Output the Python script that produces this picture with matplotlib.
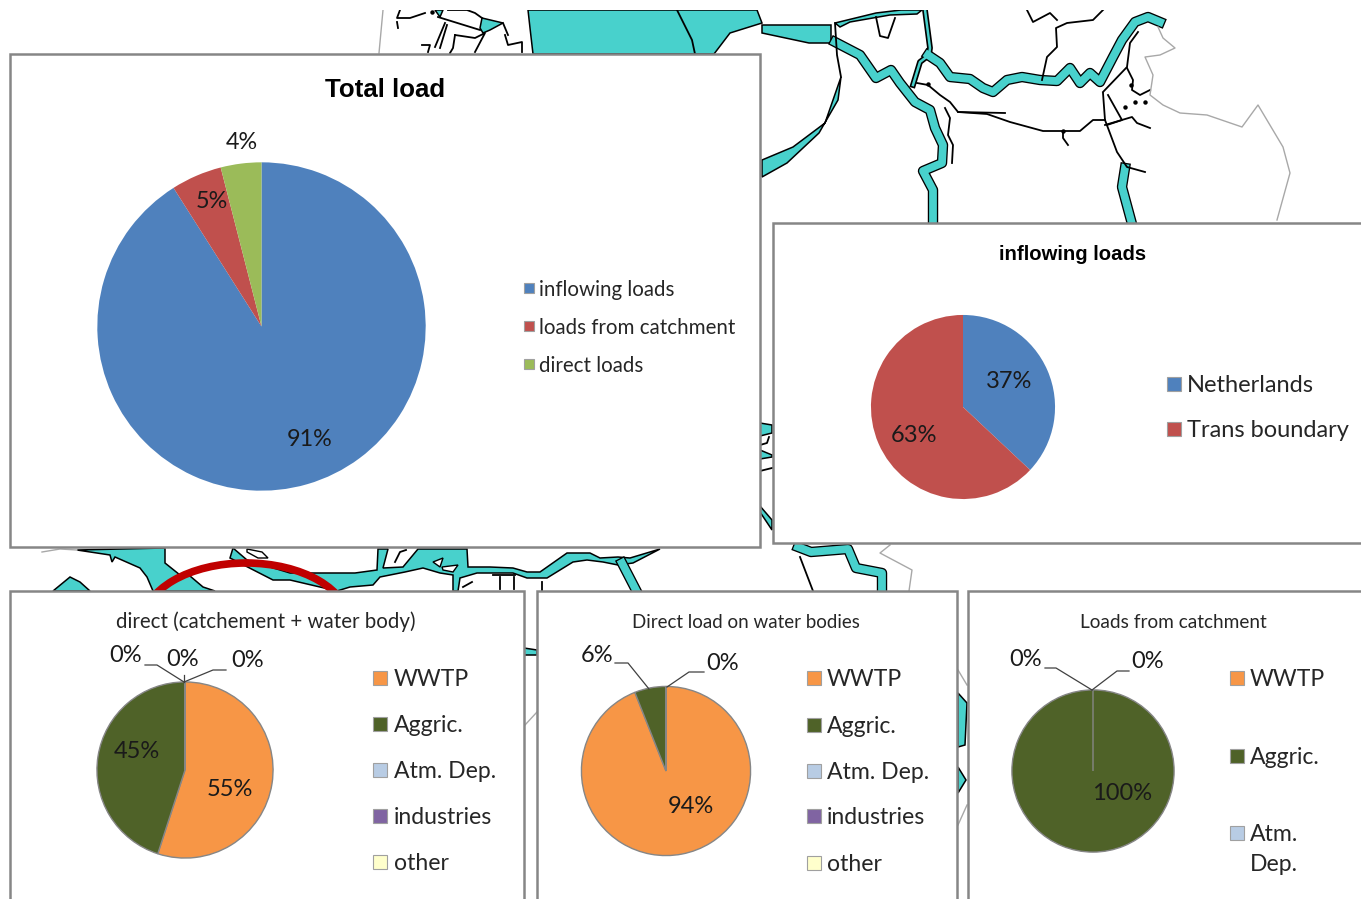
import matplotlib
matplotlib.use("Agg")
import matplotlib.pyplot as plt
from matplotlib.patches import Ellipse, Polygon, Rectangle

W, H = 1361, 899
FONT = "Lato"
BOLD = "Liberation Sans"

# Colours
TEAL = "#48D1CC"
FRAME = "#868686"
BLUE, RED, GREEN = "#4F81BD", "#C0504D", "#9BBB59"
ORANGE, OLIVE, PALE_BLUE, PURPLE, PALE_YELLOW = "#F79646", "#4F6228", "#B8CCE4", "#8064A2", "#FFFFCC"

# Chart values
total_names = ["inflowing loads", "loads from catchment", "direct loads"]
total_values = [91, 5, 4]

inflow_names = ["Netherlands", "Trans boundary"]
inflow_values = [37, 63]

source_names = ["WWTP", "Aggric.", "Atm. Dep.", "industries", "other"]
direct_values = [55, 45, 0, 0, 0]
water_values = [94, 6, 0, 0, 0]

catchment_names = ["WWTP", "Aggric.", "Atm.\nDep."]
catchment_values = [0, 100, 0]

# Map outlines in pixels
water_shapes = [
    [(528, 10), (757, 10), (762, 23), (730, 33), (714, 54), (533, 54), (530, 28)],
    [(762, 25), (831, 25), (831, 43), (809, 43), (762, 33)],
    [(835, 23), (876, 13), (901, 10), (922, 10), (917, 14), (890, 15), (850, 22), (840, 27)],
    [(482, 18), (503, 23), (490, 30), (483, 33), (480, 28)],
    [(435, 10), (443, 10), (440, 17)],
    [(841, 77), (838, 100), (819, 133), (787, 163), (762, 177), (762, 160), (793, 147), (825, 123)],
    [(77, 550), (165, 548), (165, 563), (180, 575), (190, 576), (203, 587), (215, 591), (153, 591), (147, 577),
     (140, 568), (115, 557), (112, 562), (110, 555)],
    [(53, 591), (70, 577), (80, 582), (90, 591)],
    [(233, 548), (247, 560), (290, 573), (340, 573), (355, 573), (377, 570), (378, 549), (388, 549), (383, 568),
     (403, 567), (418, 549), (467, 549), (468, 567), (490, 567), (513, 568), (527, 572), (540, 572), (567, 553),
     (590, 553), (600, 558), (618, 557), (630, 558), (660, 549), (633, 563), (618, 565), (603, 562), (587, 560),
     (573, 562), (547, 578), (527, 578), (513, 573), (477, 573), (460, 578), (458, 591), (453, 591), (453, 575),
     (440, 573), (423, 568), (405, 572), (380, 577), (373, 585), (350, 587), (337, 591), (290, 580), (273, 580),
     (230, 558)],
    [(958, 693), (967, 703), (965, 745), (958, 747)],
    [(958, 767), (966, 780), (958, 793)],
    [(760, 423), (772, 425), (772, 433), (760, 436)],
    [(760, 450), (772, 455), (772, 457), (760, 459)],
    [(760, 506), (772, 520), (772, 530), (760, 512)],
    [(524, 648), (537, 650), (537, 655), (524, 655)],
]

islands = [
    [(433, 562), (443, 558), (440, 567)],
    [(442, 567), (458, 565), (453, 572), (443, 570)],
    [(247, 549), (262, 552), (268, 558), (258, 558), (247, 552)],
]

rivers = [
    [(835, 42), (860, 55), (876, 78), (891, 70), (900, 83), (915, 102), (930, 110), (935, 128), (943, 145),
     (942, 163), (923, 171), (933, 190), (933, 224)],
    [(928, 55), (940, 63), (950, 77), (970, 79), (983, 88), (993, 92), (1007, 80), (1022, 77), (1040, 80), (1057, 81),
     (1070, 68), (1080, 83), (1090, 73), (1100, 82), (1113, 57), (1122, 40), (1135, 22), (1148, 17), (1160, 22)],
    [(1125, 168), (1122, 187), (1132, 224)],
    [(622, 563), (637, 592)],
    [(798, 547), (811, 552), (848, 549), (856, 568), (882, 573), (882, 592)],
]

side_branches = [
    [(925, 10), (930, 48), (929, 55), (920, 62), (913, 85)],
]

streams = [
    [(835, 23), (837, 55), (841, 77)],
    [(917, 83), (928, 85), (940, 95), (950, 102), (958, 112), (1005, 113)],
    [(958, 112), (987, 114), (1010, 122), (1043, 131), (1080, 131), (1093, 120), (1105, 120)],
    [(1063, 131), (1063, 138), (1068, 145)],
    [(945, 108), (950, 118), (948, 135), (953, 145), (952, 163)],
    [(1042, 80), (1047, 57), (1057, 47), (1056, 28), (1067, 23), (1093, 20), (1103, 10)],
    [(1027, 10), (1033, 22), (1050, 13), (1057, 20)],
    [(1103, 92), (1127, 67), (1130, 43), (1138, 32)],
    [(1103, 93), (1105, 120), (1108, 128), (1117, 152), (1127, 167), (1145, 172)],
    [(1108, 95), (1122, 120), (1107, 125)],
    [(1105, 125), (1132, 117), (1137, 123), (1150, 128)],
    [(1127, 68), (1133, 80), (1132, 90), (1140, 95), (1150, 90)],
    [(876, 17), (880, 36), (888, 38), (895, 18)],
    [(800, 557), (813, 591)],
    [(677, 10), (692, 40), (695, 54)],
    [(438, 17), (480, 30)],
    [(445, 23), (435, 47)],
    [(447, 25), (440, 48)],
    [(400, 10), (397, 18), (410, 18), (425, 13)],
    [(398, 28), (397, 22)],
    [(422, 45), (430, 45), (428, 52)],
    [(455, 35), (475, 38), (485, 33), (475, 52)],
    [(455, 35), (453, 48), (450, 53)],
    [(448, 10), (467, 10), (475, 13), (482, 18)],
    [(505, 35), (508, 45), (522, 42), (522, 52)],
    [(503, 23), (508, 35)],
    [(493, 575), (515, 575)],
    [(500, 577), (500, 589)],
    [(514, 577), (514, 589)],
    [(542, 582), (542, 591)],
    [(463, 587), (472, 582)],
    [(395, 562), (400, 552), (406, 550)],
    [(760, 445), (767, 443), (769, 437)],
    [(760, 471), (772, 468)],
]

specks = [(1135, 102), (1145, 102), (1125, 107), (1131, 85), (1063, 131), (432, 12), (928, 84)]

borders = [
    [(1158, 27), (1163, 38), (1175, 48), (1160, 55), (1145, 57), (1153, 75), (1150, 95), (1163, 105), (1180, 113),
     (1207, 115), (1242, 127), (1258, 105), (1283, 147), (1290, 173), (1277, 220)],
    [(383, 10), (379, 53)],
    [(42, 552), (60, 549), (77, 550)],
    [(890, 545), (880, 553), (912, 570), (909, 591)],
    [(958, 670), (967, 685)],
    [(958, 825), (967, 805)],
    [(525, 725), (537, 712)],
]

# Chart layout
panels = [(10, 54, 750, 493), (773, 223, 600, 320), (10, 591, 514, 320), (537, 591, 420, 320), (968, 591, 400, 320)]

fig = plt.figure(figsize=(W / 100, H / 100), dpi=100, facecolor="white")

base = fig.add_axes([0, 0, 1, 1], zorder=1)
base.set_xlim(0, W)
base.set_ylim(H, 0)
base.axis("off")

top = fig.add_axes([0, 0, 1, 1], zorder=3)
top.set_xlim(0, W)
top.set_ylim(H, 0)
top.axis("off")

for shape in water_shapes:
    base.add_patch(Polygon(shape, closed=True, fc=TEAL, ec="black", lw=1.1, zorder=1))
for shape in islands:
    base.add_patch(Polygon(shape, closed=True, fc="white", ec="black", lw=1.0, zorder=1.1))

for river in rivers:
    xs, ys = zip(*river)
    base.plot(xs, ys, color="black", lw=7.5, solid_joinstyle="round", zorder=2)
    base.plot(xs, ys, color=TEAL, lw=5.6, solid_joinstyle="round", zorder=2.1)

for branch in side_branches:
    xs, ys = zip(*branch)
    base.plot(xs, ys, color="black", lw=4.2, zorder=2)
    base.plot(xs, ys, color=TEAL, lw=1.8, zorder=2.1)

for stream in streams:
    xs, ys = zip(*stream)
    base.plot(xs, ys, color="black", lw=1.3, zorder=2.2)

for x, y in specks:
    base.plot(x, y, "o", color="black", ms=3.2, mew=0, zorder=2.2)

for border in borders:
    xs, ys = zip(*border)
    base.plot(xs, ys, color="#A8A8A8", lw=1.0, zorder=2.2)

base.add_patch(Ellipse((246, 623), 206, 120, fc="none", ec="#C00000", lw=5.5, zorder=3))

# White strip above the map
base.add_patch(Rectangle((0, 0), W, 10, fc="white", ec="none", zorder=3.5))

for x, y, w, h in panels:
    base.add_patch(Rectangle((x, y), w, h, fc="white", ec=FRAME, lw=1.8, zorder=4))


def draw_pie(values, colors, cx, cy, r, edge=None):
    ax = fig.add_axes([(cx - r) / W, 1 - (cy + r) / H, 2 * r / W, 2 * r / H], zorder=2)
    style = {"linewidth": 0}
    if edge:
        style = {"edgecolor": edge, "linewidth": 1.0}
    ax.pie(values, colors=colors, startangle=90, counterclock=False, radius=1.0, wedgeprops=style)
    ax.set_xlim(-1.005, 1.005)
    ax.set_ylim(-1.005, 1.005)


def legend(names, colors, x, ys, box, text_x, size, line_gap=30):
    for name, color, y in zip(names, colors, ys):
        top.add_patch(Rectangle((x, y - box / 2), box, box, fc=color, ec="#A0A0A0", lw=0.8))
        for i, part in enumerate(name.split("\n")):
            top.text(text_x, y + 1.5 + i * line_gap, part, fontsize=size, family=FONT, color="#262626", va="center", ha="left")


def value_labels(values, spots, size):
    for v, (x, y) in zip(values, spots):
        top.text(x, y + 1.5, f"{v}%", fontsize=size, family=FONT, color="#1A1A1A", ha="center", va="center")


def leaders(lines):
    for line in lines:
        xs, ys = zip(*line)
        top.plot(xs, ys, color="#404040", lw=0.9)


# Total load
draw_pie(total_values, [BLUE, RED, GREEN], 261.5, 326.5, 165)
top.text(385, 90, "Total load", fontsize=18.6, family=BOLD, fontweight="bold", ha="center", va="center")
value_labels(total_values, [(310, 438), (212, 200), (242, 141)], 16.8)
legend(total_names, [BLUE, RED, GREEN], 524, [288, 326, 364], 10, 539, 14.8)

# Inflowing loads
draw_pie(inflow_values, [BLUE, RED], 963, 407, 92.5)
top.text(1073, 254, "inflowing loads", fontsize=14.6, family=BOLD, fontweight="bold", ha="center", va="center")
value_labels(inflow_values, [(1009, 380), (914, 434)], 17)
legend(inflow_names, [BLUE, RED], 1167, [384, 429], 14, 1187, 17)

# Direct, catchment + water body
source_colors = [ORANGE, OLIVE, PALE_BLUE, PURPLE, PALE_YELLOW]
draw_pie(direct_values, source_colors, 185, 770, 88.5, edge=FRAME)
top.text(266, 622, "direct (catchement + water body)", fontsize=14.8, family=FONT, color="#262626", ha="center", va="center")
value_labels(direct_values, [(230, 788), (137, 750), (248, 659), (183, 658), (126, 654)], 17)
leaders([[(145, 665), (157, 665), (184, 682)], [(184, 682), (184, 675)], [(184, 682), (213, 670), (226, 670)]])
legend(source_names, source_colors, 373, [678, 724, 770, 816, 862], 14, 394, 16.6)

# Direct load on water bodies
draw_pie(water_values, source_colors, 666, 771, 85, edge=FRAME)
top.text(746, 622, "Direct load on water bodies", fontsize=13.5, family=FONT, color="#262626", ha="center", va="center")
value_labels(water_values[:2], [(691, 805), (597, 654)], 17)
value_labels(water_values[2:3], [(723, 662)], 17)
leaders([[(615, 663), (628, 663), (649, 689)], [(667, 687), (689, 672), (704, 672)]])
legend(source_names, source_colors, 807, [678, 725, 771, 816, 863], 14, 827, 16.6)

# Loads from catchment
draw_pie(catchment_values, source_colors[:3], 1093, 771, 81.5, edge=FRAME)
top.text(1173, 622, "Loads from catchment", fontsize=13.7, family=FONT, color="#262626", ha="center", va="center")
value_labels(catchment_values, [(1026, 658), (1122, 792), (1148, 660)], 17)
leaders([[(1045, 668), (1056, 668), (1092, 690)], [(1092, 690), (1117, 671), (1129, 671)]])
legend(catchment_names, source_colors[:3], 1230, [678, 756, 833], 14, 1250, 16.6)

fig.savefig("out.png", dpi=100, facecolor="white")
